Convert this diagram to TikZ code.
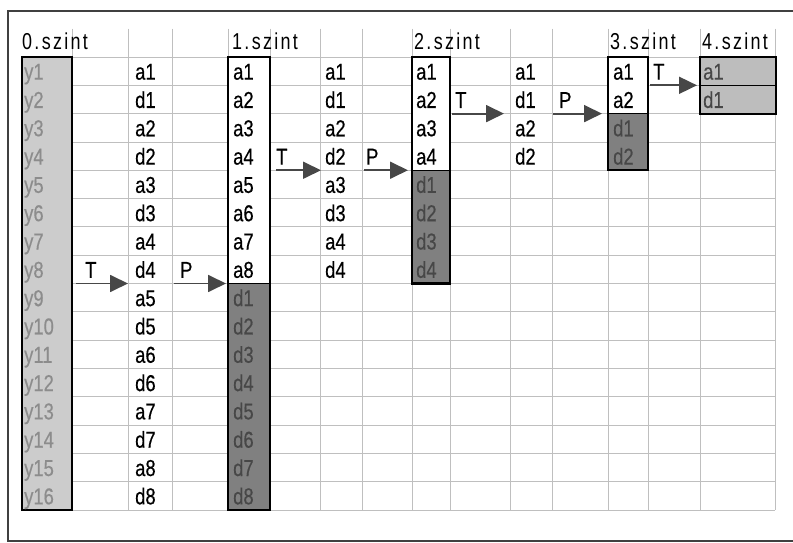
\documentclass[tikz,border=0pt]{standalone}
\usepackage{fontspec}
\setmainfont{Liberation Sans}
\usepackage{tikz}
\usetikzlibrary{arrows.meta}
\usepackage{xcolor}
\definecolor{frameline}{gray}{0.25}
\definecolor{gridgray}{gray}{0.75}
\definecolor{ylabfill}{gray}{0.80}
\definecolor{ylabtext}{gray}{0.55}
\definecolor{darkcell}{gray}{0.50}
\definecolor{darktext}{gray}{0.28}
\definecolor{topfill}{gray}{0.74}
\definecolor{arrowgray}{gray}{0.28}
\newcommand\cellfont{\fontsize{23}{25}\selectfont\addfontfeature{FakeStretch=0.8,FakeBold=0.4}}
\newcommand\headfont{\fontsize{23}{25}\selectfont\addfontfeature{FakeStretch=0.78,LetterSpace=10}}

\begin{document}
\begin{tikzpicture}[x=1pt,y=-28.3125pt,>={Triangle[length=18pt,width=17pt]},
  gridline/.style={gridgray,line width=0.8pt},
  boxline/.style={black,line width=2.2pt},
  cell/.style={anchor=base west,inner sep=0pt,font=\cellfont},
  ylab/.style={cell,text=ylabtext},
  dcell/.style={cell,text=darktext},
  head/.style={cell,font=\headfont},
  flow/.style={->,arrowgray,line width=1.8pt}]
\useasboundingbox (0,-2.013) rectangle (793,17.165);
% outer frame
\draw[frameline,line width=1.4pt] (8,-1.625) rectangle (805,17.095);
% grid
\draw[gridline] (22,0) -- (775,0) (22,1) -- (775,1) (22,2) -- (775,2)
  (22,3) -- (775,3) (22,4) -- (775,4) (22,5) -- (775,5) (22,6) -- (775,6)
  (22,7) -- (775,7) (22,8) -- (775,8) (22,9) -- (775,9) (22,10) -- (775,10)
  (22,11) -- (775,11) (22,12) -- (775,12) (22,13) -- (775,13)
  (22,14) -- (775,14) (22,15) -- (775,15) (22,16) -- (775,16);
\draw[gridline] (72,-1) -- (72,16) (128,-1) -- (128,16) (172,-1) -- (172,16)
  (228,-1) -- (228,16) (270,-1) -- (270,16) (320,-1) -- (320,16)
  (362,-1) -- (362,16) (412,-1) -- (412,16) (450,-1) -- (450,16)
  (510,-1) -- (510,16) (552,-1) -- (552,16) (608,-1) -- (608,16)
  (648,-1) -- (648,16) (700,-1) -- (700,16) (775,-1) -- (775,16);
% boxes
\fill[ylabfill] (22,0) rectangle (72,16);
\fill[white] (228,0) rectangle (270,8);
\draw[fill=darkcell] (228,8) rectangle (270,16);
\fill[white] (412,0) rectangle (450,4);
\draw[fill=darkcell] (412,4) rectangle (450,8);
\fill[white] (608,0) rectangle (648,2);
\draw[fill=darkcell] (608,2) rectangle (648,4);
\fill[topfill] (700,0) rectangle (776,2);
\draw[line width=1.4pt] (700,1) -- (776,1);
\draw[boxline] (22,0) rectangle (72,16);
\draw[boxline] (228,0) rectangle (270,16);
\draw[boxline] (412,0) rectangle (450,8);
\draw[boxline] (608,0) rectangle (648,4);
\draw[boxline] (700,0) rectangle (776,2);
% headers
\node[head] (h0) at (22,-0.25) {0.szint};
\node[head] (h1) at (232,-0.25) {1.szint};
\node[head] (h2) at (414,-0.25) {2.szint};
\node[head] (h3) at (610,-0.25) {3.szint};
\node[head] (h4) at (702,-0.25) {4.szint};
% 0.szint
\node[ylab] (y1) at (24,0.8) {y1};
\node[ylab] (y2) at (24,1.8) {y2};
\node[ylab] (y3) at (24,2.8) {y3};
\node[ylab] (y4) at (24,3.8) {y4};
\node[ylab] (y5) at (24,4.8) {y5};
\node[ylab] (y6) at (24,5.8) {y6};
\node[ylab] (y7) at (24,6.8) {y7};
\node[ylab] (y8) at (24,7.8) {y8};
\node[ylab] (y9) at (24,8.8) {y9};
\node[ylab] (y10) at (24,9.8) {y10};
\node[ylab] (y11) at (24,10.8) {y11};
\node[ylab] (y12) at (24,11.8) {y12};
\node[ylab] (y13) at (24,12.8) {y13};
\node[ylab] (y14) at (24,13.8) {y14};
\node[ylab] (y15) at (24,14.8) {y15};
\node[ylab] (y16) at (24,15.8) {y16};
% after T, level 0
\node[cell] (ta1) at (135,0.8) {a1};
\node[cell] (td1) at (135,1.8) {d1};
\node[cell] (ta2) at (135,2.8) {a2};
\node[cell] (td2) at (135,3.8) {d2};
\node[cell] (ta3) at (135,4.8) {a3};
\node[cell] (td3) at (135,5.8) {d3};
\node[cell] (ta4) at (135,6.8) {a4};
\node[cell] (td4) at (135,7.8) {d4};
\node[cell] (ta5) at (135,8.8) {a5};
\node[cell] (td5) at (135,9.8) {d5};
\node[cell] (ta6) at (135,10.8) {a6};
\node[cell] (td6) at (135,11.8) {d6};
\node[cell] (ta7) at (135,12.8) {a7};
\node[cell] (td7) at (135,13.8) {d7};
\node[cell] (ta8) at (135,14.8) {a8};
\node[cell] (td8) at (135,15.8) {d8};
% 1.szint
\node[cell] (la1) at (233,0.8) {a1};
\node[cell] (la2) at (233,1.8) {a2};
\node[cell] (la3) at (233,2.8) {a3};
\node[cell] (la4) at (233,3.8) {a4};
\node[cell] (la5) at (233,4.8) {a5};
\node[cell] (la6) at (233,5.8) {a6};
\node[cell] (la7) at (233,6.8) {a7};
\node[cell] (la8) at (233,7.8) {a8};
\node[dcell] (ld1) at (233,8.8) {d1};
\node[dcell] (ld2) at (233,9.8) {d2};
\node[dcell] (ld3) at (233,10.8) {d3};
\node[dcell] (ld4) at (233,11.8) {d4};
\node[dcell] (ld5) at (233,12.8) {d5};
\node[dcell] (ld6) at (233,13.8) {d6};
\node[dcell] (ld7) at (233,14.8) {d7};
\node[dcell] (ld8) at (233,15.8) {d8};
% after T, level 1
\node[cell] (ua1) at (325,0.8) {a1};
\node[cell] (ud1) at (325,1.8) {d1};
\node[cell] (ua2) at (325,2.8) {a2};
\node[cell] (ud2) at (325,3.8) {d2};
\node[cell] (ua3) at (325,4.8) {a3};
\node[cell] (ud3) at (325,5.8) {d3};
\node[cell] (ua4) at (325,6.8) {a4};
\node[cell] (ud4) at (325,7.8) {d4};
% 2.szint
\node[cell] (ma1) at (416,0.8) {a1};
\node[cell] (ma2) at (416,1.8) {a2};
\node[cell] (ma3) at (416,2.8) {a3};
\node[cell] (ma4) at (416,3.8) {a4};
\node[dcell] (md1) at (416,4.8) {d1};
\node[dcell] (md2) at (416,5.8) {d2};
\node[dcell] (md3) at (416,6.8) {d3};
\node[dcell] (md4) at (416,7.8) {d4};
% after T, level 2
\node[cell] (va1) at (515,0.8) {a1};
\node[cell] (vd1) at (515,1.8) {d1};
\node[cell] (va2) at (515,2.8) {a2};
\node[cell] (vd2) at (515,3.8) {d2};
% 3.szint
\node[cell] (na1) at (613,0.8) {a1};
\node[cell] (na2) at (613,1.8) {a2};
\node[dcell] (nd1) at (613,2.8) {d1};
\node[dcell] (nd2) at (613,3.8) {d2};
% 4.szint
\node[dcell] (oa1) at (703,0.8) {a1};
\node[dcell] (od1) at (703,1.8) {d1};
% steps
\node[cell] (T0) at (85,7.8) {T};
\coordinate (T0s) at (76,8);
\coordinate (T0e) at (128,8);
\draw[flow] (T0s) -- (T0e);
\node[cell] (P0) at (180,7.8) {P};
\coordinate (P0s) at (174,8);
\coordinate (P0e) at (226,8);
\draw[flow] (P0s) -- (P0e);
\node[cell] (T1) at (276,3.8) {T};
\coordinate (T1s) at (276,4);
\coordinate (T1e) at (321,4);
\draw[flow] (T1s) -- (T1e);
\node[cell] (P1) at (366,3.8) {P};
\coordinate (P1s) at (364,4);
\coordinate (P1e) at (408,4);
\draw[flow] (P1s) -- (P1e);
\node[cell] (T2) at (455,1.8) {T};
\coordinate (T2s) at (452,2);
\coordinate (T2e) at (504,2);
\draw[flow] (T2s) -- (T2e);
\node[cell] (P2) at (559,1.8) {P};
\coordinate (P2s) at (553,2);
\coordinate (P2e) at (602,2);
\draw[flow] (P2s) -- (P2e);
\node[cell] (T3) at (653,0.8) {T};
\coordinate (T3s) at (650,1);
\coordinate (T3e) at (697,1);
\draw[flow] (T3s) -- (T3e);
\end{tikzpicture}
\end{document}
